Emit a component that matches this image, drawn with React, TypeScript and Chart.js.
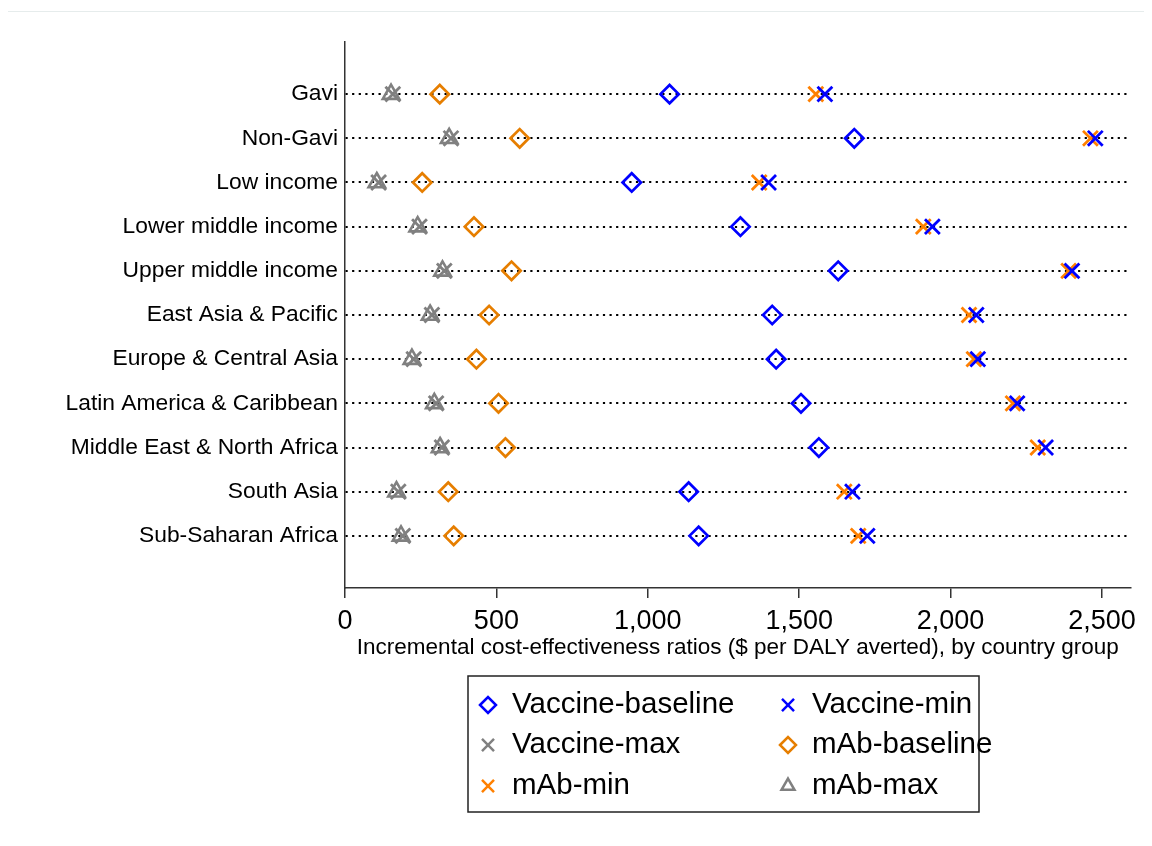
import React, { useEffect, useRef } from 'react';
import { Chart, registerables } from 'chart.js';
import { drawPoint } from 'chart.js/helpers';

Chart.register(...registerables);

const categories = [
  'Gavi',
  'Non-Gavi',
  'Low income',
  'Lower middle income',
  'Upper middle income',
  'East Asia & Pacific',
  'Europe & Central Asia',
  'Latin America & Caribbean',
  'Middle East & North Africa',
  'South Asia',
  'Sub-Saharan Africa',
];

const vaccineBaseline = [1072, 1682, 947, 1306, 1629, 1411, 1424, 1506, 1565, 1135, 1168];
const vaccineMin = [1585, 2478, 1399, 1940, 2401, 2085, 2090, 2220, 2314, 1676, 1725];
const vaccineMax = [158, 350, 111, 246, 328, 287, 227, 301, 320, 176, 191];
const mAbBaseline = [313, 577, 255, 426, 550, 476, 434, 507, 530, 341, 359];
const mAbMin = [1555, 2462, 1368, 1910, 2390, 2061, 2077, 2206, 2288, 1649, 1695];
const mAbMax = [152, 344, 105, 240, 322, 281, 221, 295, 314, 170, 185];

const xTicks = [0, 500, 1000, 1500, 2000, 2500];
const xTitle = 'Incremental cost-effectiveness ratios ($ per DALY averted), by country group';

const BLUE = '#0000ff';
const ORANGE_D = '#e67e00';
const ORANGE_X = '#ff8000';
const GRAY = '#808080';
const FONT = '"Liberation Sans", Arial, sans-serif';

type SeriesDef = {
  label: string;
  values: number[];
  color: string;
  style: string;
  radius: number;
  width: number;
  order: number;
  legendRadius: number;
};

const series: SeriesDef[] = [
  { label: 'Vaccine-baseline', values: vaccineBaseline, color: BLUE, style: 'rectRot', radius: 9.2, width: 2.7, order: 2, legendRadius: 8 },
  { label: 'Vaccine-min', values: vaccineMin, color: BLUE, style: 'crossRot', radius: 10.5, width: 2.8, order: 0, legendRadius: 8.5 },
  { label: 'Vaccine-max', values: vaccineMax, color: GRAY, style: 'crossRot', radius: 10.5, width: 2.8, order: 4, legendRadius: 8.5 },
  { label: 'mAb-baseline', values: mAbBaseline, color: ORANGE_D, style: 'rectRot', radius: 9.2, width: 2.7, order: 3, legendRadius: 8 },
  { label: 'mAb-min', values: mAbMin, color: ORANGE_X, style: 'crossRot', radius: 10.5, width: 2.8, order: 1, legendRadius: 8.5 },
  { label: 'mAb-max', values: mAbMax, color: GRAY, style: 'triangle', radius: 9.5, width: 2.6, order: 5, legendRadius: 7.5 },
];

const legendBoxPlugin = {
  id: 'legendBox',
  afterDraw(chart: any) {
    const ctx = chart.ctx as CanvasRenderingContext2D;
    const boxX = 460, boxY = 664, boxW = 511, boxH = 136;
    const colX = [480, 780];
    const textOffset = 24;
    const rowY = [693, 733, 774];
    ctx.save();
    ctx.lineWidth = 1.5;
    ctx.strokeStyle = '#222';
    ctx.strokeRect(boxX, boxY, boxW, boxH);
    ctx.font = `29.5px ${FONT}`;
    ctx.textBaseline = 'middle';
    ctx.textAlign = 'left';
    series.forEach((s, i) => {
      const col = i % 2;
      const row = Math.floor(i / 2);
      const x = colX[col];
      const y = rowY[row];
      ctx.save();
      ctx.strokeStyle = s.color;
      ctx.fillStyle = 'rgba(0,0,0,0)';
      ctx.lineWidth = 2.5;
      drawPoint(ctx, { pointStyle: s.style as any, radius: s.legendRadius, rotation: 0, borderWidth: 2.5 }, x, y);
      ctx.restore();
      ctx.fillStyle = '#000';
      ctx.fillText(s.label, x + textOffset, y);
    });
    ctx.restore();
  },
};

export default function App() {
  const ref = useRef<HTMLCanvasElement | null>(null);

  useEffect(() => {
    if (!ref.current) return;
    Chart.defaults.font.family = FONT;
    const chart = new Chart(ref.current, {
      type: 'scatter',
      data: {
        datasets: series.map((s) => ({
          label: s.label,
          data: s.values.map((v, i) => ({ x: v, y: i + 1 })),
          pointStyle: s.style as any,
          pointRadius: s.radius,
          pointHoverRadius: s.radius,
          pointBorderWidth: s.width,
          pointHoverBorderWidth: s.width,
          pointBorderColor: s.color,
          pointBackgroundColor: 'rgba(0,0,0,0)',
          order: s.order,
        })),
      },
      options: {
        responsive: false,
        animation: false,
        devicePixelRatio: 1,
        events: [],
        layout: { padding: { left: 0, right: 12, top: 30, bottom: 173 } },
        plugins: {
          legend: { display: false },
          tooltip: { enabled: false },
        },
        scales: {
          x: {
            type: 'linear',
            min: 0,
            max: 2595,
            afterBuildTicks: (s: any) => {
              s.ticks = xTicks.map((v) => ({ value: v }));
            },
            afterFit: (s: any) => {
              s.height = 73;
            },
            ticks: {
              callback: (v: any) => Number(v).toLocaleString('en-US'),
              font: { size: 27 },
              color: '#000',
              padding: 7,
              maxRotation: 0,
              autoSkip: false,
              includeBounds: false,
            },
            grid: { drawOnChartArea: false, drawTicks: true, tickLength: 10, color: '#333', lineWidth: 1.5 },
            border: { display: true, color: '#333', width: 1.5 },
            title: {
              display: true,
              text: xTitle,
              font: { size: 22.5 },
              color: '#000',
              padding: { top: 0, bottom: 0 },
            },
          },
          y: {
            type: 'linear',
            reverse: true,
            min: -0.18,
            max: 12.18,
            afterBuildTicks: (s: any) => {
              s.ticks = categories.map((_, i) => ({ value: i + 1 }));
            },
            afterFit: (s: any) => {
              s.width = 337;
            },
            ticks: {
              callback: (v: any) => categories[Number(v) - 1] ?? '',
              font: { size: 22.8 },
              color: '#000',
              padding: 7,
              autoSkip: false,
            },
            grid: { color: '#000', lineWidth: 2, drawTicks: false },
            border: { display: true, color: '#333', width: 1.5, dash: [2.2, 4.4] },
          },
        },
      },
      plugins: [legendBoxPlugin],
    } as any);
    return () => chart.destroy();
  }, []);

  return (
    <div style={{ paddingTop: 3 }}>
      <div style={{ borderTop: '1px solid #e6ecec' }} />
      <canvas ref={ref} width={1136} height={822} style={{ display: 'block' }} />
    </div>
  );
}
